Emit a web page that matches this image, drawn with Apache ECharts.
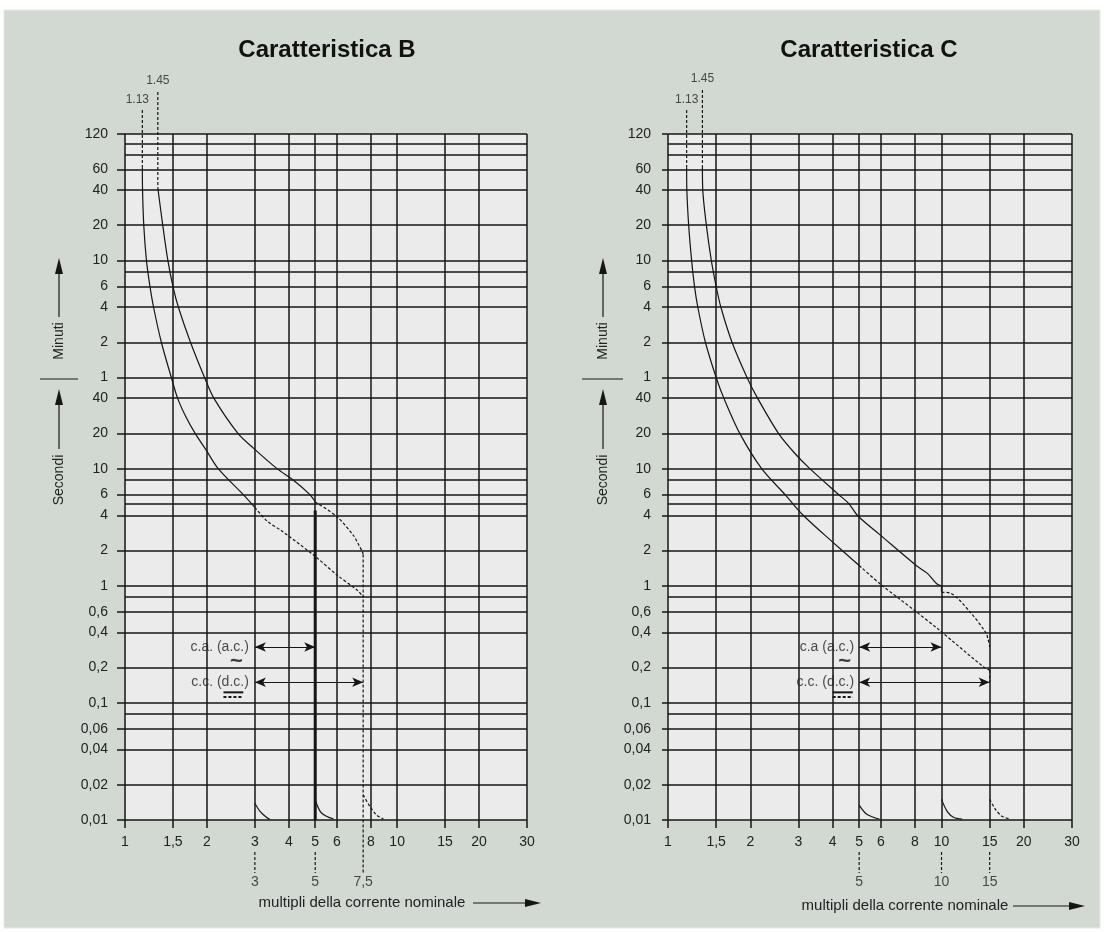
<!DOCTYPE html>
<html><head><meta charset="utf-8">
<script src="https://cdn.jsdelivr.net/npm/echarts@6/dist/echarts.min.js"></script>
<style>html,body{margin:0;padding:0;background:#fff}#c{width:1104px;height:932px}</style>
</head><body><div id="c"></div>
<script>
// ---------- data ----------
const xTicks = [1, 1.5, 2, 3, 4, 5, 6, 8, 10, 15, 20, 30];
const yTickSec = [7200, 3600, 2400, 1200, 600, 360, 240, 120, 60, 40, 20, 10, 6, 4, 2, 1, 0.6, 0.4, 0.2, 0.1, 0.06, 0.04, 0.02, 0.01];
const yGridSec = [7200, 6000, 4800, 3600, 2400, 1200, 600, 480, 360, 240, 120, 60, 40, 20, 10, 8, 6, 5, 4, 2, 1, 0.8, 0.6, 0.4, 0.2, 0.1, 0.08, 0.06, 0.04, 0.02, 0.01];
const titles = ['Caratteristica B', 'Caratteristica C'];
const leadLabels = ['1.13', '1.45'];

// Characteristic B (x = multiples of In, y = seconds)
const bLowerLead = [[1.158, 11560], [1.158, 3750]];
const bLowerSolid = [[1.158, 3750], [1.16, 2400], [1.172, 1200], [1.199, 600], [1.235, 360], [1.273, 240], [1.36, 120], [1.48, 60], [1.56, 40], [1.67, 28], [1.81, 20], [1.98, 14.6], [2.2, 10], [2.72, 6], [3, 4.67]];
const bLowerDashed = [[3, 4.67], [3.34, 3.54], [3.76, 2.95], [5, 1.78], [6, 1.24], [7.2, 0.9], [7.5, 0.8]];
const bUpperLead = [[1.32, 16480], [1.32, 2500]];
const bUpperSolid = [[1.32, 2500], [1.376, 1200], [1.437, 600], [1.5, 360], [1.57, 240], [1.74, 120], [1.96, 60], [2.12, 40], [2.6, 20], [2.97, 14.9], [3.62, 10], [4.15, 8], [4.78, 6], [5, 5.2]];
const bUpperDashed = [[5, 5.2], [6, 3.9], [6.93, 2.66], [7.25, 2.2], [7.45, 1.95], [7.5, 1.85]];
const bDcVertical = [[7.5, 1.85], [7.5, 0.00353]];
const bInstantAc = [[5, 4.4], [5, 0.01]];
const bHooks = [[[3, 0.0139], [3.14, 0.0118], [3.32, 0.0105], [3.41, 0.0101]],
                [[5, 0.0148], [5.22, 0.0118], [5.52, 0.0107], [5.84, 0.0102]]];
const bHookDc = [[7.5, 0.0164], [7.95, 0.013], [8.41, 0.011], [8.91, 0.0102]];
const bMarks = [3, 5];
const bMarkLabels = ['3', '5', '7,5'];
const bArrowAc = [3, 5, 0.3];
const bArrowDc = [3, 7.5, 0.15];

// Characteristic C
const cLowerLead = [[1.17, 11560], [1.17, 3750]];
const cLowerSolid = [[1.17, 3750], [1.172, 2400], [1.19, 1200], [1.22, 600], [1.25, 360], [1.285, 240], [1.37, 120], [1.5, 60], [1.6, 40], [1.83, 20], [2.2, 10], [2.68, 6], [3.12, 4], [4, 2.36], [5, 1.49]];
const cLowerDashed = [[5, 1.49], [5.96, 1.04], [8.08, 0.6], [9.8, 0.42], [14.2, 0.204], [15, 0.19]];
const cLowerDcStep = [[15, 0.19], [15, 0.15]];
const cUpperLead = [[1.336, 17140], [1.336, 3900]];
const cUpperSolid = [[1.336, 3900], [1.34, 2400], [1.381, 1200], [1.44, 600], [1.5, 360], [1.56, 240], [1.714, 120], [1.945, 60], [2.125, 40], [2.535, 20], [2.9, 13.6], [3.3, 10], [4.21, 6], [4.59, 5], [4.96, 3.92], [5.96, 2.72], [8.08, 1.49], [8.9, 1.27], [9.6, 1.04], [10, 1.0]];
const cUpperNotch = [[10, 1.0], [10, 0.88]];
const cUpperDashed = [[10, 0.88], [10.7, 0.87], [12.7, 0.6], [14.5, 0.4], [14.8, 0.35], [15, 0.3]];
const cHooks = [[[5, 0.0134], [5.3, 0.0113], [5.67, 0.0105], [5.93, 0.0102]],
                [[10, 0.015], [10.5, 0.0118], [11.1, 0.0105], [11.9, 0.0102]]];
const cHookDc = [[15, 0.015], [15.8, 0.0122], [16.7, 0.0107], [17.9, 0.0102]];
const cMarks = [5, 10, 15];
const cMarkLabels = ['5', '10', '15'];
const cArrowAc = [5, 10, 0.3];
const cArrowDc = [5, 15, 0.15];

const acLabels = ['c.a. (a.c.)', 'c.a (a.c.)'];
const dcLabel = 'c.c. (d.c.)';
const xAxisTitle = 'multipli della corrente nominale';
const minLabel = 'Minuti', secLabel = 'Secondi';

// ---------- helpers ----------
const FONT = 'Liberation Sans, Arial, Helvetica, sans-serif';
const INK = '#161616';
const MARK_TOP = 0.00533, MARK_BOT = 0.00353;
const clean = v => parseFloat(Number(v).toPrecision(6));
const fmtX = v => String(clean(v)).replace('.', ',');
const fmtY = v => { const s = clean(v); return s >= 60 ? String(Math.round(s / 60)) : String(s).replace('.', ','); };

function xAx(i) {
  return { type: 'log', logBase: 10, gridIndex: i, min: 1, max: 30,
    axisLine: { show: false },
    axisTick: { show: true, inside: false, length: 8, customValues: xTicks, lineStyle: { color: INK, width: 1.5 } },
    axisLabel: { show: true, customValues: xTicks, margin: 15, fontSize: 14, color: '#222', fontFamily: FONT, formatter: fmtX },
    splitLine: { show: false }, minorTick: { show: false }, minorSplitLine: { show: false } };
}
function yAx(i, tl) {
  return { type: 'log', logBase: 10, gridIndex: i, min: 0.01, max: 7200,
    axisLine: { show: false },
    axisTick: { show: true, inside: false, length: tl, customValues: yTickSec, lineStyle: { color: INK, width: 1.5 } },
    axisLabel: { show: true, customValues: yTickSec, margin: 17, fontSize: 14, color: '#222', fontFamily: FONT, formatter: fmtY },
    splitLine: { show: false }, minorTick: { show: false }, minorSplitLine: { show: false } };
}
function line(gi, data, o) {
  o = o || {};
  const s = { type: 'line', xAxisIndex: gi, yAxisIndex: gi, data: data, symbol: 'none', showSymbol: false,
    clip: false, silent: true, z: o.z || 3, animation: false,
    lineStyle: { color: INK, width: o.w || 1.2, type: o.dash ? [3, 2] : 'solid' } };
  if (o.smooth) { s.smooth = o.smooth; }
  return s;
}
function gridLines(gi) {
  return { type: 'line', xAxisIndex: gi, yAxisIndex: gi, data: [], z: 1, silent: true,
    markLine: { silent: true, animation: false, symbol: ['none', 'none'], label: { show: false },
      lineStyle: { color: INK, width: 1.5, type: 'solid' },
      emphasis: { disabled: true },
      data: [...xTicks.map(v => ({ xAxis: v })), ...yGridSec.map(v => ({ yAxis: v }))] } };
}
function box(gi, x0, x1) {
  return { type: 'line', xAxisIndex: gi, yAxisIndex: gi, data: [], z: 2, silent: true,
    markArea: { silent: true, animation: false, itemStyle: { color: '#ebebeb' },
      data: [[{ coord: [x0, 0.105] }, { coord: [x1, 0.38] }]] } };
}
function arrows(gi, ac, dc) {
  return { type: 'line', xAxisIndex: gi, yAxisIndex: gi, data: [], z: 4, silent: true,
    markLine: { silent: true, animation: false, symbol: ['arrow', 'arrow'], symbolSize: [7, 11], label: { show: false },
      lineStyle: { color: INK, width: 1.2, type: 'solid' }, emphasis: { disabled: true },
      data: [[{ coord: [ac[0], ac[2]] }, { coord: [ac[1], ac[2]] }], [{ coord: [dc[0], dc[2]] }, { coord: [dc[1], dc[2]] }]] } };
}
function texts(gi, items) {
  return { type: 'scatter', xAxisIndex: gi, yAxisIndex: gi, symbolSize: 0, clip: false, silent: true, z: 5, animation: false,
    data: items.map(it => ({ value: [it[0], it[1]],
      label: Object.assign({ show: true, formatter: it[2], color: '#222', fontFamily: FONT, fontSize: 14 }, it[3] || {}) })) };
}

const SM = 0.3;
// ---------- series ----------
const S = [];
// panel B
S.push(gridLines(0), box(0, 1.59, 2.95));
S.push(line(0, bLowerLead, { dash: true }), line(0, bLowerSolid, { smooth: SM }), line(0, bLowerDashed, { dash: true, smooth: SM }));
S.push(line(0, bUpperLead, { dash: true }), line(0, bUpperSolid, { smooth: SM }), line(0, bUpperDashed, { dash: true, smooth: SM }));
S.push(line(0, bDcVertical, { dash: true }), line(0, bInstantAc, { w: 3 }));
bHooks.forEach(h => S.push(line(0, h, { smooth: SM })));
S.push(line(0, bHookDc, { dash: true, smooth: SM }));
bMarks.forEach(m => S.push(line(0, [[m, MARK_TOP], [m, MARK_BOT]], { dash: true })));
S.push(line(0, [[2.30, 0.123], [2.72, 0.123]], { w: 2 }), line(0, [[2.30, 0.1125], [2.72, 0.1125]], { w: 2, dash: true }));
S.push(arrows(0, bArrowAc, bArrowDc));
S.push(texts(0, [
  [bLowerLead[0][0], bLowerLead[0][1], leadLabels[0], { position: 'top', distance: 4, fontSize: 12, offset: [-5, 0] }],
  [bUpperLead[0][0], bUpperLead[0][1], leadLabels[1], { position: 'top', distance: 5, fontSize: 12 }],
  [bMarks[0], MARK_BOT, bMarkLabels[0], { position: 'bottom', distance: 2 }],
  [bMarks[1], MARK_BOT, bMarkLabels[1], { position: 'bottom', distance: 2 }],
  [7.5, MARK_BOT, bMarkLabels[2], { position: 'bottom', distance: 2 }],
  [bArrowAc[0], bArrowAc[2], acLabels[0], { position: 'left', distance: 6 }],
  [bArrowDc[0], bArrowDc[2], dcLabel, { position: 'left', distance: 6 }],
  [bArrowAc[0], 0.224, '~', { position: 'left', distance: 12, fontSize: 22, fontWeight: 'bold', color: '#111' }]
]));
// panel C
S.push(gridLines(1), box(1, 2.5, 4.95));
S.push(line(1, cLowerLead, { dash: true }), line(1, cLowerSolid, { smooth: SM }), line(1, cLowerDashed, { dash: true, smooth: SM }), line(1, cLowerDcStep, { dash: true }));
S.push(line(1, cUpperLead, { dash: true }), line(1, cUpperSolid, { smooth: SM }), line(1, cUpperNotch), line(1, cUpperDashed, { dash: true, smooth: SM }));
cHooks.forEach(h => S.push(line(1, h, { smooth: SM })));
S.push(line(1, cHookDc, { dash: true, smooth: SM }));
cMarks.forEach(m => S.push(line(1, [[m, MARK_TOP], [m, MARK_BOT]], { dash: true })));
S.push(line(1, [[4.0, 0.123], [4.74, 0.123]], { w: 2 }), line(1, [[4.0, 0.1125], [4.74, 0.1125]], { w: 2, dash: true }));
S.push(arrows(1, cArrowAc, cArrowDc));
S.push(texts(1, [
  [cLowerLead[0][0], cLowerLead[0][1], leadLabels[0], { position: 'top', distance: 4, fontSize: 12 }],
  [cUpperLead[0][0], cUpperLead[0][1], leadLabels[1], { position: 'top', distance: 5, fontSize: 12 }],
  [cMarks[0], MARK_BOT, cMarkLabels[0], { position: 'bottom', distance: 2 }],
  [cMarks[1], MARK_BOT, cMarkLabels[1], { position: 'bottom', distance: 2 }],
  [cMarks[2], MARK_BOT, cMarkLabels[2], { position: 'bottom', distance: 2 }],
  [cArrowAc[0], cArrowAc[2], acLabels[1], { position: 'left', distance: 5 }],
  [cArrowDc[0], cArrowDc[2], dcLabel, { position: 'left', distance: 5 }],
  [cArrowAc[0], 0.224, '~', { position: 'left', distance: 8, fontSize: 22, fontWeight: 'bold', color: '#111' }]
]));

// ---------- decorations ----------
function sideArrows(cx, sepX0, sepX1) {
  return [
    { type: 'polygon', z: 10, silent: true, shape: { points: [[cx, 258], [cx - 4, 274], [cx + 4, 274]] }, style: { fill: INK } },
    { type: 'line', z: 10, silent: true, shape: { x1: cx, y1: 272, x2: cx, y2: 317 }, style: { stroke: INK, lineWidth: 1.2 } },
    { type: 'text', z: 10, silent: true, x: cx, y: 341, rotation: Math.PI / 2, style: { text: minLabel, font: '14px ' + FONT, fill: '#222', align: 'center', verticalAlign: 'middle' } },
    { type: 'line', z: 10, silent: true, shape: { x1: sepX0, y1: 379, x2: sepX1, y2: 379 }, style: { stroke: INK, lineWidth: 1.2 } },
    { type: 'polygon', z: 10, silent: true, shape: { points: [[cx, 389], [cx - 4, 405], [cx + 4, 405]] }, style: { fill: INK } },
    { type: 'line', z: 10, silent: true, shape: { x1: cx, y1: 403, x2: cx, y2: 449 }, style: { stroke: INK, lineWidth: 1.2 } },
    { type: 'text', z: 10, silent: true, x: cx, y: 480, rotation: Math.PI / 2, style: { text: secLabel, font: '14px ' + FONT, fill: '#222', align: 'center', verticalAlign: 'middle' } }
  ];
}
function bottomTitle(cx, y, a0, a1) {
  return [
    { type: 'text', z: 10, silent: true, x: cx, y: y, style: { text: xAxisTitle, font: '15px ' + FONT, fill: '#222', align: 'center', verticalAlign: 'middle' } },
    { type: 'line', z: 10, silent: true, shape: { x1: a0, y1: y, x2: a1 - 12, y2: y }, style: { stroke: INK, lineWidth: 1.2 } },
    { type: 'polygon', z: 10, silent: true, shape: { points: [[a1, y], [a1 - 16, y - 4], [a1 - 16, y + 4]] }, style: { fill: INK } }
  ];
}
const graphics = [
  { type: 'rect', z: -100, silent: true, shape: { x: 4, y: 10, width: 1096, height: 918 }, style: { fill: '#d2d9d3', stroke: '#e4e8e4', lineWidth: 1 } },
  { type: 'text', z: 10, silent: true, x: 327, y: 50, style: { text: titles[0], font: 'bold 24px ' + FONT, fill: '#111', align: 'center', verticalAlign: 'middle' } },
  { type: 'text', z: 10, silent: true, x: 869, y: 50, style: { text: titles[1], font: 'bold 24px ' + FONT, fill: '#111', align: 'center', verticalAlign: 'middle' } },
  ...sideArrows(59, 40, 78),
  ...sideArrows(603, 582, 623),
  ...bottomTitle(362, 903, 473, 541),
  ...bottomTitle(905, 906, 1013, 1085)
];

const chart = echarts.init(document.getElementById('c'), null, { renderer: 'canvas' });
chart.setOption({
  backgroundColor: '#ffffff',
  animation: false,
  grid: [
    { left: 125, right: 577, top: 134, bottom: 112, show: true, backgroundColor: '#ebebeb', borderWidth: 0, containLabel: false, outerBoundsMode: 'none' },
    { left: 668, right: 32, top: 134, bottom: 112, show: true, backgroundColor: '#ebebeb', borderWidth: 0, containLabel: false, outerBoundsMode: 'none' }
  ],
  xAxis: [xAx(0), xAx(1)],
  yAxis: [yAx(0, 8), yAx(1, 6)],
  graphic: graphics,
  series: S
});
</script>
</body></html>
